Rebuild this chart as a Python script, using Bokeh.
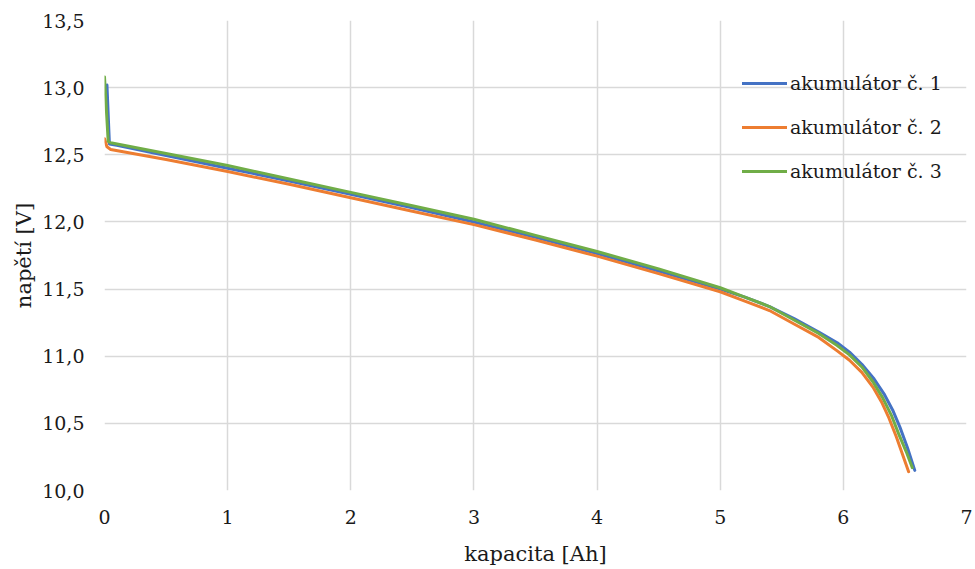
from bokeh.plotting import figure
from bokeh.models import FixedTicker, Range1d
from bokeh.embed import file_html
from bokeh.resources import INLINE

# Data
x1 = [0.02, 0.04, 0.1, 0.5, 1.0, 1.5, 2.0, 2.5, 3.0, 3.5, 4.0, 4.5, 5.0, 5.2, 5.4, 5.6, 5.8, 5.95, 6.05, 6.15, 6.25, 6.33, 6.4, 6.46, 6.52, 6.58]
y1 = [13.02, 12.58, 12.57, 12.495, 12.40, 12.305, 12.205, 12.105, 12.00, 11.885, 11.765, 11.635, 11.50, 11.44, 11.37, 11.28, 11.18, 11.10, 11.03, 10.94, 10.83, 10.72, 10.60, 10.47, 10.32, 10.15]

x2 = [0.0, 0.02, 0.05, 0.5, 1.0, 1.5, 2.0, 2.5, 3.0, 3.5, 4.0, 4.5, 5.0, 5.2, 5.4, 5.6, 5.8, 5.95, 6.05, 6.15, 6.24, 6.31, 6.37, 6.43, 6.48, 6.53]
y2 = [12.62, 12.56, 12.54, 12.465, 12.375, 12.28, 12.18, 12.08, 11.98, 11.865, 11.745, 11.615, 11.48, 11.41, 11.34, 11.24, 11.14, 11.04, 10.97, 10.88, 10.77, 10.66, 10.54, 10.40, 10.27, 10.14]

x3 = [0.0, 0.03, 0.05, 0.5, 1.0, 1.5, 2.0, 2.5, 3.0, 3.5, 4.0, 4.5, 5.0, 5.2, 5.4, 5.6, 5.8, 5.95, 6.05, 6.15, 6.24, 6.32, 6.39, 6.45, 6.51, 6.56]
y3 = [13.08, 12.60, 12.59, 12.51, 12.42, 12.32, 12.22, 12.12, 12.02, 11.90, 11.78, 11.65, 11.51, 11.44, 11.37, 11.27, 11.17, 11.08, 11.01, 10.92, 10.81, 10.69, 10.56, 10.42, 10.29, 10.17]

series_names = ["akumulátor č. 1", "akumulátor č. 2", "akumulátor č. 3"]
series_colors = ["#4472C4", "#ED7D31", "#70AD47"]

x_ticks = [0, 1, 2, 3, 4, 5, 6, 7]
x_tick_labels = ["0", "1", "2", "3", "4", "5", "6", "7"]
y_ticks = [10.0, 10.5, 11.0, 11.5, 12.0, 12.5, 13.0, 13.5]
y_tick_labels = ["10,0", "10,5", "11,0", "11,5", "12,0", "12,5", "13,0", "13,5"]

FONT = "DejaVu Serif"

p = figure(width=975, height=569, output_backend="svg", toolbar_location=None,
           x_range=Range1d(0, 7), y_range=Range1d(10, 13.5),
           min_border_left=104, min_border_right=9, min_border_top=20, min_border_bottom=79)

p.outline_line_color = None
p.background_fill_color = "white"
p.border_fill_color = "white"

for g in (p.xgrid[0], p.ygrid[0]):
    g.grid_line_color = "#d9d9d9"
    g.grid_line_width = 1.5
p.xgrid[0].ticker = FixedTicker(ticks=x_ticks)
p.ygrid[0].ticker = FixedTicker(ticks=y_ticks)

for ax, ticks, labels in ((p.xaxis[0], x_ticks, x_tick_labels), (p.yaxis[0], y_ticks, y_tick_labels)):
    ax.ticker = FixedTicker(ticks=ticks)
    ax.major_label_overrides = {t: l for t, l in zip(ticks, labels)}
    ax.axis_line_color = None
    ax.major_tick_line_color = None
    ax.minor_tick_line_color = None
    ax.major_tick_out = 0
    ax.major_tick_in = 0
    ax.major_label_text_font = FONT
    ax.major_label_text_font_size = "19px"
    ax.major_label_text_color = "#1a1a1a"
    ax.axis_label_text_font = FONT
    ax.axis_label_text_font_size = "21px"
    ax.axis_label_text_font_style = "normal"
    ax.axis_label_text_color = "#1a1a1a"

p.xaxis[0].axis_label = "kapacita [Ah]"
p.yaxis[0].axis_label = "napětí [V]"
p.xaxis[0].major_label_standoff = 19
p.xaxis[0].axis_label_standoff = 15
p.yaxis[0].major_label_standoff = 20
p.yaxis[0].axis_label_standoff = 3

for xs, ys, name, col in zip((x1, x2, x3), (y1, y2, y3), series_names, series_colors):
    p.line(xs, ys, line_color=col, line_width=3, legend_label=name,
           line_join="round", line_cap="round")

lg = p.legend[0]
lg.location = (638, 307)
lg.padding = 0
lg.margin = 0
lg.border_line_color = None
lg.background_fill_alpha = 0
lg.glyph_width = 45
lg.glyph_height = 24
lg.label_height = 24
lg.spacing = 20
lg.label_standoff = 3
lg.label_text_font = FONT
lg.label_text_font_size = "19px"
lg.label_text_color = "#1a1a1a"

open("out.html", "w").write(file_html(p, INLINE))
